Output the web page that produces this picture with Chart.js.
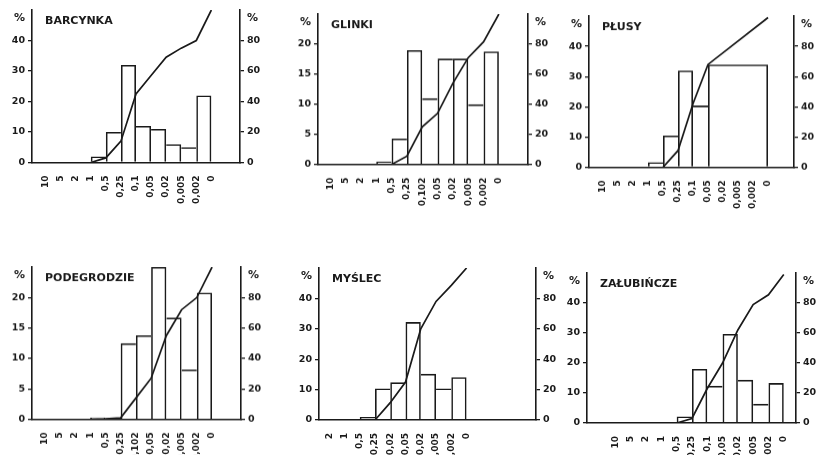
<!DOCTYPE html>
<html lang="pl">
<head>
<meta charset="UTF-8">
<title>Skład granulometryczny</title>
<script src="https://cdn.jsdelivr.net/npm/chart.js"></script>
<style>
  body { margin: 0; background: #fff; overflow: hidden; }
  .panel { position: absolute; }
</style>
</head>
<body>
<div class="panel" id="p1"><canvas id="c1"></canvas></div>
<div class="panel" id="p2"><canvas id="c2"></canvas></div>
<div class="panel" id="p3"><canvas id="c3"></canvas></div>
<div class="panel" id="p4"><canvas id="c4"></canvas></div>
<div class="panel" id="p5"><canvas id="c5"></canvas></div>
<div class="panel" id="p6"><canvas id="c6"></canvas></div>
<script>
// granice frakcji (mm) - tak jak podpisane na rysunku
var frakcje = ["10", "5", "2", "1", "0,5", "0,25", "0,1", "0,05", "0,02", "0,005", "0,002", "0"];
var frakcje102 = ["10", "5", "2", "1", "0,5", "0,25", "0,102", "0,05", "0,02", "0,005", "0,002", "0"];
var frakcjeMyslec = ["2", "1", "0,5", "0,25", "0,02", "0,05", "0,02", "0,005", "0,002", "0"];

// udział frakcji (%) - słupki, lewa oś
var barcynkaSlupki = [null, null, null, 2, 10, 32, 12, 11, 6, 5, 22];
var glinkiSlupki = [null, null, null, 0.5, 4.3, 19, 11, 17.6, 17.6, 10, 18.8];
var plusySlupki = [null, null, null, 1.7, 10.5, 32, 20.4, null, null, null, null];
var plusyScalony = 34; // jeden słupek 0,05 - 0
var podegrodzieSlupki = [null, null, null, 0.3, 0.2, 12.5, 13.8, 25, 16.7, 8.2, 20.8];
var myslecSlupki = [null, null, 1, 10.4, 12.4, 32.2, 15.2, 10.4, 14.1];
var zalubinczeSlupki = [null, null, null, null, 2.2, 18, 12.4, 29.7, 14.4, 6.4, 13.3];

// krzywa kumulacyjna (%) - prawa oś
var barcynkaKumul = [null, null, null, 0, 3, 14, 45, 57, 69, 75, 80, 100];
var glinkiKumul = [null, null, null, null, 0, 5.5, 25, 34, 54, 71, 81.5, 100];
var plusyKumul = [null, null, null, null, 0, 11, 42, 68, null, null, null, 99];
var podegrodzieKumul = [null, null, null, 0, 0.3, 1, 14, 27, 55, 72, 80, 100];
var myslecKumul = [null, null, null, 0, 11.4, 25, 60, 78, 88.6, 100];
var zalubinczeKumul = [null, null, null, null, 0, 3, 23, 40, 62, 79, 85.5, 99];

var kolor = "#1a1a1a";
var czcionka = "'DejaVu Sans', sans-serif";

// ramka osi każdego wykresu: lewa, prawa, góra, dół (px)
var panele = [
  { id: "1", nazwa: "BARCYNKA", etykiety: frakcje, slupki: barcynkaSlupki, kumul: barcynkaKumul,
    maxL: 50, krokL: 10, xMin: -0.9, xMax: 12.9, ramka: [32, 240, 9.5, 162] },
  { id: "2", nazwa: "GLINKI", etykiety: frakcje102, slupki: glinkiSlupki, kumul: glinkiKumul,
    maxL: 25, krokL: 5, xMin: -0.8, xMax: 12.9, ramka: [318, 528, 14.3, 164] },
  { id: "3", nazwa: "PŁUSY", etykiety: frakcje, slupki: plusySlupki, kumul: plusyKumul,
    scalony: { od: 7, do: 11, wartosc: plusyScalony },
    maxL: 50, krokL: 10, xMin: -0.93, xMax: 12.73, ramka: [589, 794, 16, 166.5] },
  { id: "4", nazwa: "PODEGRODZIE", etykiety: frakcje102, slupki: podegrodzieSlupki, kumul: podegrodzieKumul,
    maxL: 25, krokL: 5, xMin: -0.82, xMax: 12.9, ramka: [32, 241, 267.4, 419] },
  { id: "5", nazwa: "MYŚLEC", etykiety: frakcjeMyslec, slupki: myslecSlupki, kumul: myslecKumul,
    maxL: 50, krokL: 10, xMin: -0.67, xMax: 13.55, ramka: [319, 536, 268, 420] },
  { id: "6", nazwa: "ZAŁUBIŃCZE", etykiety: frakcje, slupki: zalubinczeSlupki, kumul: zalubinczeKumul,
    maxL: 50, krokL: 10, xMin: -1.86, xMax: 11.8, ramka: [587, 796, 273, 423] }
];

var OS_Y = 32, OS_X = 60, GORA = 10, LINIA = 1.6;

var opisy = {
  id: "opisy",
  afterDraw: function (chart, args, opts) {
    var ctx = chart.ctx, a = chart.chartArea;
    ctx.save();
    ctx.fillStyle = kolor;
    ctx.textBaseline = "middle";
    ctx.font = "bold 11px " + czcionka;
    ctx.textAlign = "left";
    ctx.fillText(opts.nazwa, a.left + 13, a.top + 11);
    ctx.font = "bold 11px " + czcionka;
    ctx.textAlign = "right";
    ctx.fillText("%", a.left - 7, a.top + 8);
    ctx.textAlign = "left";
    ctx.fillText("%", a.right + 7, a.top + 8);
    ctx.restore();
  }
};

function rysujPanel(p) {
  var r = p.ramka;
  var div = document.getElementById("p" + p.id);
  div.style.left = (r[0] - OS_Y) + "px";
  div.style.top = (r[2] - GORA) + "px";
  div.style.width = (r[1] - r[0] + 2 * OS_Y) + "px";
  div.style.height = (r[3] - r[2] + GORA + OS_X) + "px";

  // wysokości w każdym przedziale (wspólna krawędź rysowana raz, przez wyższy słupek)
  var wys = p.slupki.map(function (v) { return v || 0; });
  if (p.scalony) {
    for (var k = p.scalony.od; k < p.scalony.do; k++) wys[k] = p.scalony.wartosc;
  }

  var slupki = [];
  var idx = [];
  p.slupki.forEach(function (v, i) {
    if (v !== null) { slupki.push({ x: i + 0.5, y: v }); idx.push(i); }
  });

  var linia = [];
  p.kumul.forEach(function (v, i) {
    if (v !== null) linia.push({ x: i, y: v });
  });

  var datasets = [{
    type: "bar",
    data: slupki,
    grouped: false,
    backgroundColor: "rgba(0,0,0,0)",
    borderColor: kolor,
    inflateAmount: 0,
    borderSkipped: "start",
    borderWidth: function (c) {
      var i = idx[c.dataIndex];
      var h = wys[i];
      var lewa = i === 0 || h >= wys[i - 1] ? LINIA : 0;
      var prawa = i === wys.length - 1 || h > wys[i + 1] ? LINIA : 0;
      return { top: LINIA, left: lewa, right: prawa, bottom: 0 };
    },
    categoryPercentage: 1,
    barPercentage: 1,
    order: 2
  }];

  if (p.scalony) {
    var szer = p.scalony.do - p.scalony.od;
    datasets.push({
      type: "bar",
      data: [{ x: p.scalony.od + szer / 2, y: p.scalony.wartosc }],
      grouped: false,
      backgroundColor: "rgba(0,0,0,0)",
      borderColor: kolor,
      inflateAmount: 0,
      borderSkipped: "start",
      borderWidth: { top: LINIA, left: LINIA, right: LINIA, bottom: 0 },
      categoryPercentage: 1,
      barPercentage: szer,
      order: 2
    });
  }

  datasets.push({
    type: "line",
    data: linia,
    yAxisID: "y1",
    borderColor: kolor,
    borderWidth: 1.7,
    pointRadius: 0,
    tension: 0,
    spanGaps: true,
    fill: false,
    order: 1
  });

  var tickiL = [];
  for (var t = 0; t < p.maxL; t += p.krokL) tickiL.push({ value: t });

  new Chart(document.getElementById("c" + p.id), {
    type: "bar",
    data: { datasets: datasets },
    plugins: [opisy],
    options: {
      animation: false,
      responsive: true,
      maintainAspectRatio: false,
      layout: { padding: { top: GORA, left: 0, right: 0, bottom: 0 } },
      plugins: {
        legend: { display: false },
        tooltip: { enabled: false },
        opisy: { nazwa: p.nazwa }
      },
      scales: {
        x: {
          type: "linear",
          min: p.xMin,
          max: p.xMax,
          offset: false,
          afterFit: function (s) { s.height = OS_X; },
          afterBuildTicks: function (s) {
            s.ticks = p.etykiety.map(function (e, i) { return { value: i }; });
          },
          grid: { display: false, offset: false },
          border: { display: true, color: kolor, width: LINIA },
          ticks: {
            autoSkip: false,
            maxRotation: 90,
            minRotation: 90,
            padding: 5,
            color: kolor,
            font: { family: czcionka, size: 9, weight: "bold" },
            callback: function (v) { return p.etykiety[v] !== undefined ? p.etykiety[v] : ""; }
          }
        },
        y: {
          position: "left",
          min: 0,
          max: p.maxL,
          afterFit: function (s) { s.width = OS_Y; },
          afterBuildTicks: function (s) { s.ticks = tickiL.slice(); },
          grid: { drawOnChartArea: false, tickLength: 4, color: kolor, lineWidth: 1.3 },
          border: { display: true, color: kolor, width: LINIA },
          ticks: { padding: 3, color: kolor, font: { family: czcionka, size: 9.5, weight: "bold" } }
        },
        y1: {
          position: "right",
          min: 0,
          max: 100,
          afterFit: function (s) { s.width = OS_Y; },
          afterBuildTicks: function (s) { s.ticks = [0, 20, 40, 60, 80].map(function (v) { return { value: v }; }); },
          grid: { drawOnChartArea: false, tickLength: 4, color: kolor, lineWidth: 1.3 },
          border: { display: true, color: kolor, width: LINIA },
          ticks: { padding: 3, color: kolor, font: { family: czcionka, size: 9.5, weight: "bold" } }
        }
      }
    }
  });
}

panele.forEach(rysujPanel);
</script>
</body>
</html>
